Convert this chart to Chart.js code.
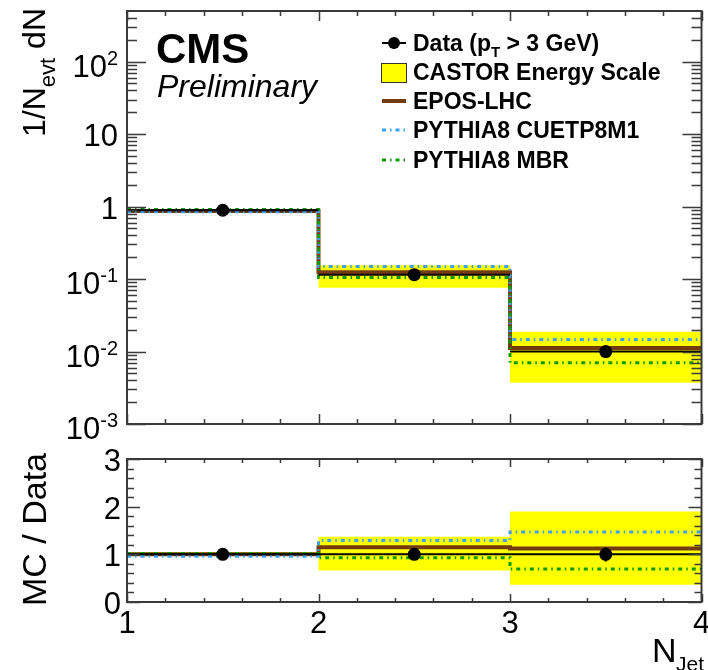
<!DOCTYPE html>
<html>
<head>
<meta charset="utf-8">
<script src="https://cdn.jsdelivr.net/npm/chart.js@4.4.1/dist/chart.umd.min.js"></script>
<style>
	html, body { margin: 0; padding: 0; background: #fff; }
	#wrap { position: relative; width: 708px; height: 670px; overflow: hidden; }
	#wrap canvas { position: absolute; left: 0; top: 0; }
</style>
</head>
<body>
<div id="wrap">
	<canvas id="main" width="708" height="670"></canvas>
	<canvas id="ratio" width="708" height="670"></canvas>
</div>
<script>

// bins in N_Jet
const binEdges = [1, 2, 3, 4];
const binCenters = [1.5, 2.5, 3.5];

// 1/N_evt dN
const dataVals = [0.89, 0.115, 0.0100];
const dataErrs = [0.004, 0.003, 0.0012];
const eposVals = [0.87, 0.124, 0.0112];
const cuetp8m1Vals = [0.85, 0.149, 0.0147];
const mbrVals = [0.91, 0.105, 0.0070];
const bandLow = [0.87, 0.076, 0.0037];
const bandHigh = [0.93, 0.155, 0.0187];

// MC / Data
const ratioData = [1, 1, 1];
const ratioDataErrs = [0.01, 0.03, 0.15];
const ratioEpos = [1.0, 1.15, 1.12];
const ratioCuetp8m1 = [0.96, 1.29, 1.47];
const ratioMbr = [1.02, 0.93, 0.69];
const ratioBandLow = [0.98, 0.66, 0.36];
const ratioBandHigh = [1.05, 1.37, 1.90];

// axis labels
const logTicks = [1e-3, 1e-2, 1e-1, 1, 10, 100];
const logTickLabels = [['10', '-3'], ['10', '-2'], ['10', '-1'], ['1', ''], ['10', ''], ['10', '2']];
const ratioTicks = [0, 1, 2, 3];
const ratioTickLabels = ['0', '1', '2', '3'];
const xTicks = [1, 2, 3, 4];
const xTickLabels = ['1', '2', '3', '4'];

const legendLabels = ['Data', 'CASTOR Energy Scale', 'EPOS-LHC', 'PYTHIA8 CUETP8M1', 'PYTHIA8 MBR'];

const FONT = '"Liberation Sans", Arial, Helvetica, sans-serif';
const FRAME = '#3a3a3a';
const YELLOW = '#ffff00';
const BROWN = '#743c0c';
const BLUE = '#3ea0f0';
const GREEN = '#0a9a0a';
const DASH = [4, 4, 1.5, 4];


function stepPoints(vals){
	// histogram outline: one point per bin edge
	var pts = vals.map((v, i) => ({x: binEdges[i], y: v}));
	pts.push({x: binEdges[vals.length], y: vals[vals.length - 1]});
	return pts;
}

function binSegments(vals){
	// x error of the data = bin width, null breaks the line
	var pts = [];
	vals.forEach((v, i) => {
		pts.push({x: binEdges[i], y: v}, {x: binEdges[i + 1], y: v}, {x: binEdges[i + 1], y: null});
	});
	return pts;
}

function errSegments(vals, errs){
	var pts = [];
	vals.forEach((v, i) => {
		pts.push({x: binCenters[i], y: v - errs[i]}, {x: binCenters[i], y: v + errs[i]}, {x: binCenters[i], y: null});
	});
	return pts;
}

function makeDatasets(d, dErr, epos, cuetp, mbr, lo, hi){
	// index 0 is drawn last (on top)
	return [
		{data: binCenters.map((x, i) => ({x: x, y: d[i]})), showLine: false, pointRadius: 6.5, pointBackgroundColor: '#000', pointBorderWidth: 0},
		{data: binSegments(d), borderColor: '#000', borderWidth: 2, pointRadius: 0},
		{data: errSegments(d, dErr), borderColor: '#000', borderWidth: 2, pointRadius: 0},
		{data: stepPoints(mbr), stepped: true, borderColor: GREEN, borderWidth: 3, borderDash: DASH, pointRadius: 0},
		{data: stepPoints(cuetp), stepped: true, borderColor: BLUE, borderWidth: 3, borderDash: DASH, pointRadius: 0},
		{data: stepPoints(epos), stepped: true, borderColor: BROWN, borderWidth: 4, pointRadius: 0},
		{data: stepPoints(hi), stepped: true, borderColor: 'rgba(0,0,0,0)', borderWidth: 0, pointRadius: 0},
		{data: stepPoints(lo), stepped: true, borderColor: 'rgba(0,0,0,0)', borderWidth: 0, pointRadius: 0, fill: '-1', backgroundColor: YELLOW}
	];
}

function range(from, to, step){
	var out = [];
	for (var v = from; v <= to + 1e-9; v += step) out.push(+v.toFixed(6));
	return out;
}

function logMinors(lo, hi){
	var out = [];
	for (var e = -3; e <= 2; e++){
		for (var k = 2; k <= 9; k++){
			var v = k * Math.pow(10, e);
			if (v > lo && v < hi) out.push(v);
		}
	}
	return out;
}

// frame and inward ticks on all four sides, ROOT style
const frameTicks = {
	id: 'frameTicks',
	afterDatasetsDraw(chart, args, o){
		var ctx = chart.ctx, a = chart.chartArea;
		var sx = chart.scales.x, sy = chart.scales.y;
		ctx.save();
		ctx.strokeStyle = FRAME;
		ctx.lineWidth = 1.5;
		ctx.beginPath();
		var tickX = (vals, len) => {
			vals.forEach(v => {
				var px = Math.round(sx.getPixelForValue(v)) + 0.5;
				ctx.moveTo(px, a.bottom); ctx.lineTo(px, a.bottom - len);
				ctx.moveTo(px, a.top); ctx.lineTo(px, a.top + len);
			});
		};
		var tickY = (vals, len) => {
			vals.forEach(v => {
				var py = Math.round(sy.getPixelForValue(v)) + 0.5;
				ctx.moveTo(a.left, py); ctx.lineTo(a.left + len, py);
				ctx.moveTo(a.right, py); ctx.lineTo(a.right - len, py);
			});
		};
		tickX(o.xMajor, o.xMajorLen);
		tickX(o.xMinor, o.xMinorLen);
		tickY(o.yMajor, o.yMajorLen);
		tickY(o.yMinor, o.yMinorLen);
		ctx.stroke();
		ctx.lineWidth = 2;
		ctx.strokeRect(a.left, a.top, a.right - a.left, a.bottom - a.top);
		ctx.restore();
	}
};

function drawPow(ctx, base, exp, right, tickY){
	ctx.textAlign = 'left';
	ctx.textBaseline = 'alphabetic';
	ctx.font = '31px ' + FONT;
	var wb = ctx.measureText(base).width;
	ctx.font = '20px ' + FONT;
	var we = exp ? ctx.measureText(exp).width : 0;
	ctx.font = '31px ' + FONT;
	if (!exp){
		ctx.fillText(base, right - wb, tickY + 12);
		return;
	}
	ctx.fillText(base, right - we - wb, tickY + 15);
	ctx.font = '20px ' + FONT;
	ctx.fillText(exp, right - we, tickY + 3);
}

// rotated title made of [text, size, shift] pieces, ending at yEnd
function drawRotated(ctx, parts, baseX, yEnd){
	ctx.save();
	ctx.translate(baseX, yEnd);
	ctx.rotate(-Math.PI / 2);
	ctx.textAlign = 'left';
	ctx.textBaseline = 'alphabetic';
	var total = 0;
	parts.forEach(p => { ctx.font = p[1] + 'px ' + FONT; total += ctx.measureText(p[0]).width; });
	var x = -total;
	parts.forEach(p => {
		ctx.font = p[1] + 'px ' + FONT;
		ctx.fillText(p[0], x, p[2]);
		x += ctx.measureText(p[0]).width;
	});
	ctx.restore();
}

const mainText = {
	id: 'mainText',
	afterDraw(chart){
		var ctx = chart.ctx, sy = chart.scales.y;
		ctx.save();
		ctx.fillStyle = '#000';

		logTicks.forEach((v, i) => {
			drawPow(ctx, logTickLabels[i][0], logTickLabels[i][1], 118, sy.getPixelForValue(v));
		});

		drawRotated(ctx, [['1/N', 32, 0], ['evt', 22, 10], [' dN', 32, 0]], 45, 8);

		ctx.textAlign = 'left';
		ctx.textBaseline = 'alphabetic';
		ctx.font = 'bold 42px ' + FONT;
		ctx.fillText('CMS', 156, 63);
		ctx.font = 'italic 32px ' + FONT;
		ctx.fillText('Preliminary', 157, 97);

		// legend
		var rows = [43, 72, 101, 130, 160];
		var tx = 413;
		ctx.font = 'bold 23px ' + FONT;
		ctx.fillText(legendLabels[0] + ' (p', tx, rows[0] + 8);
		var w = ctx.measureText(legendLabels[0] + ' (p').width;
		ctx.font = 'bold 15px ' + FONT;
		ctx.fillText('T', tx + w, rows[0] + 14);
		var w2 = ctx.measureText('T').width;
		ctx.font = 'bold 23px ' + FONT;
		ctx.fillText(' > 3 GeV)', tx + w + w2, rows[0] + 8);
		for (var i = 1; i < legendLabels.length; i++){
			ctx.fillText(legendLabels[i], tx, rows[i] + 8);
		}

		ctx.strokeStyle = '#000';
		ctx.lineWidth = 2;
		ctx.beginPath();
		ctx.moveTo(382, rows[0]); ctx.lineTo(406, rows[0]);
		ctx.moveTo(394, rows[0] - 6); ctx.lineTo(394, rows[0] + 6);
		ctx.stroke();
		ctx.beginPath();
		ctx.arc(394, rows[0], 6, 0, Math.PI * 2);
		ctx.fill();

		ctx.fillStyle = YELLOW;
		ctx.fillRect(381, rows[1] - 9, 26, 20);
		ctx.lineWidth = 1;
		ctx.strokeStyle = '#333';
		ctx.strokeRect(381.5, rows[1] - 8.5, 25, 19);

		ctx.strokeStyle = BROWN;
		ctx.lineWidth = 4;
		ctx.beginPath(); ctx.moveTo(382, rows[2]); ctx.lineTo(406, rows[2]); ctx.stroke();
		ctx.setLineDash(DASH);
		ctx.lineWidth = 3;
		ctx.strokeStyle = BLUE;
		ctx.beginPath(); ctx.moveTo(382, rows[3]); ctx.lineTo(406, rows[3]); ctx.stroke();
		ctx.strokeStyle = GREEN;
		ctx.beginPath(); ctx.moveTo(382, rows[4]); ctx.lineTo(406, rows[4]); ctx.stroke();
		ctx.restore();
	}
};

const ratioText = {
	id: 'ratioText',
	afterDraw(chart){
		var ctx = chart.ctx, sx = chart.scales.x, sy = chart.scales.y;
		ctx.save();
		ctx.fillStyle = '#000';
		ctx.font = '31px ' + FONT;
		ctx.textBaseline = 'alphabetic';
		ctx.textAlign = 'right';
		ratioTicks.forEach((v, i) => {
			ctx.fillText(ratioTickLabels[i], 121, sy.getPixelForValue(v) + 12);
		});
		ctx.textAlign = 'center';
		xTicks.forEach((v, i) => {
			ctx.fillText(xTickLabels[i], sx.getPixelForValue(v), 633);
		});

		drawRotated(ctx, [['MC / Data', 34, 0]], 46, 453);

		ctx.textAlign = 'left';
		ctx.font = '34px ' + FONT;
		ctx.fillText('N', 652, 662);
		ctx.font = '21px ' + FONT;
		ctx.fillText('Jet', 676, 671);
		ctx.restore();
	}
};

function baseOptions(padding, yScale, ticks){
	return {
		responsive: false,
		animation: false,
		devicePixelRatio: 1,
		layout: {padding: padding},
		scales: {
			x: {type: 'linear', min: binEdges[0], max: binEdges[binEdges.length - 1], display: false},
			y: yScale
		},
		plugins: {
			legend: {display: false},
			tooltip: {enabled: false},
			frameTicks: ticks
		}
	};
}

var mainChart = new Chart(document.getElementById('main'), {
	type: 'line',
	data: {datasets: makeDatasets(dataVals, dataErrs, eposVals, cuetp8m1Vals, mbrVals, bandLow, bandHigh)},
	options: baseOptions(
		{left: 127, right: 4, top: 11, bottom: 246},
		{type: 'logarithmic', min: 1e-3, max: 500, display: false},
		{xMajor: xTicks, xMinor: range(1, 4, 0.2), xMajorLen: 10, xMinorLen: 5,
			yMajor: logTicks, yMinor: logMinors(1e-3, 500), yMajorLen: 19, yMinorLen: 10}
	),
	plugins: [frameTicks, mainText]
});

var ratioChart = new Chart(document.getElementById('ratio'), {
	type: 'line',
	data: {datasets: makeDatasets(ratioData, ratioDataErrs, ratioEpos, ratioCuetp8m1, ratioMbr, ratioBandLow, ratioBandHigh)},
	options: baseOptions(
		{left: 127, right: 4, top: 459, bottom: 68},
		{type: 'linear', min: 0, max: 3, display: false},
		{xMajor: xTicks, xMinor: range(1, 4, 0.2), xMajorLen: 8, xMinorLen: 4,
			yMajor: ratioTicks, yMinor: range(0, 3, 0.2), yMajorLen: 13, yMinorLen: 7}
	),
	plugins: [frameTicks, ratioText]
});

</script>
</body>
</html>
